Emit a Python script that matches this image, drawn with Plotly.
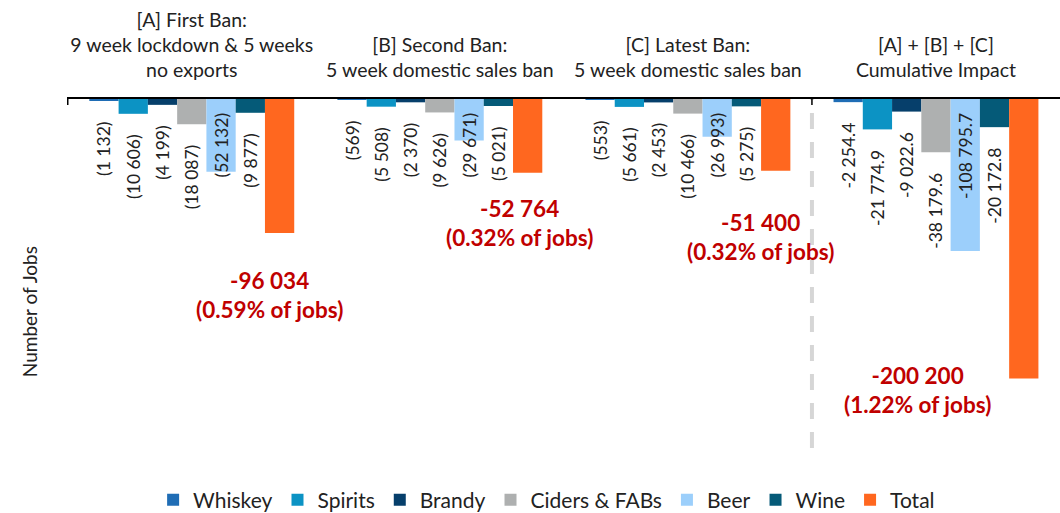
import plotly.graph_objects as go

categories = [
    "[A] First Ban:<br>9 week lockdown & 5 weeks<br>no exports",
    "[B] Second Ban:<br>5 week domestic sales ban",
    "[C] Latest Ban:<br>5 week domestic sales ban",
    "[A] + [B] + [C]<br>Cumulative Impact",
]
series_names = ["Whiskey", "Spirits", "Brandy", "Ciders & FABs", "Beer", "Wine", "Total"]
series_colors = ["#1F6DB5", "#0C93C4", "#063F6B", "#AEB0B0", "#9CCFFB", "#055A78", "#FF671F"]

whiskey = [-1132, -569, -553, -2254.4]
spirits = [-10606, -5508, -5661, -21774.9]
brandy = [-4199, -2370, -2453, -9022.6]
ciders = [-18087, -9626, -10466, -38179.6]
beer = [-52132, -29671, -26993, -108795.7]
wine = [-9877, -5021, -5275, -20172.8]
total = [-96034, -52764, -51400, -200200]
pct_of_jobs = ["0.59%", "0.32%", "0.32%", "1.22%"]

series_values = [whiskey, spirits, brandy, ciders, beer, wine, total]

EN = "\u2002"
THIN = "\u2009"


def fmt(v, j):
    if j < 3:
        return "(" + f"{abs(v):,.0f}".replace(",", " ") + ")"
    return f"{v:,.1f}".replace(",", " ")


FONT = "Lato"
TXT = "#222222"
LBL = 17.5
fig = go.Figure()
for i, (name, vals, col) in enumerate(zip(series_names, series_values, series_colors)):
    if name == "Total":
        fig.add_trace(go.Bar(x=categories, y=vals, name=name, marker_color=col,
                             marker_line_width=0, hoverinfo="skip"))
        continue
    if name == "Beer":
        labels = [fmt(v, j) + EN + THIN for j, v in enumerate(vals)]
        fig.add_trace(go.Bar(
            x=categories, y=vals, name=name, marker_color=col, marker_line_width=0,
            text=labels, textposition="inside", insidetextanchor="start",
            textangle=-90, constraintext="none",
            insidetextfont=dict(family=FONT, size=LBL, color=TXT),
            cliponaxis=False))
    else:
        labels = [fmt(v, j) + EN * 2 for j, v in enumerate(vals)]
        fig.add_trace(go.Bar(
            x=categories, y=vals, name=name, marker_color=col, marker_line_width=0,
            text=labels, textposition="outside", textangle=-90, constraintext="none",
            outsidetextfont=dict(family=FONT, size=LBL, color=TXT),
            cliponaxis=False))

# red total annotations
xshifts = [78, 80, 73, -18]
yshifts = [-62, -50, -66, -12]
for j, cat in enumerate(categories):
    txt = "<b>" + f"{total[j]:,}".replace(",", " ") + "<br>(" + pct_of_jobs[j] + " of jobs)</b>"
    fig.add_annotation(x=cat, y=total[j], xref="x", yref="y", text=txt, showarrow=False,
                       xshift=xshifts[j], yshift=yshifts[j],
                       font=dict(family=FONT, size=22.5, color="#C00000"),
                       align="center", xanchor="center", yanchor="middle")

# dashed separator before cumulative group
fig.add_shape(type="line", xref="x", yref="paper", x0=2.5, x1=2.5, y0=0, y1=1,
              line=dict(color="#D6D6D6", width=4, dash="16px,13px"), layer="below")
# small boundary ticks on the category axis
for bx in (-0.5, 2.5):
    fig.add_shape(type="line", xref="x", yref="paper", x0=bx, x1=bx, y0=1, y1=1 - 6 / 349,
                  line=dict(color="black", width=1.5))

fig.add_annotation(text="Number of Jobs", xref="paper", yref="paper", x=-0.037, y=0.39,
                   textangle=-90, showarrow=False, xanchor="center", yanchor="middle",
                   font=dict(family=FONT, size=19, color=TXT))

fig.update_layout(
    width=1060, height=513,
    margin=dict(l=67, r=0, t=99, b=65, autoexpand=False),
    barmode="group", bargap=0.174, bargroupgap=0,
    plot_bgcolor="white", paper_bgcolor="white",
    font=dict(family=FONT, size=18, color=TXT),
    showlegend=True,
    legend=dict(orientation="h", x=0.483, xanchor="center", y=-0.149, yanchor="middle",
                font=dict(family=FONT, size=21, color=TXT), traceorder="normal",
                itemwidth=30),
    xaxis=dict(side="top", showline=True, linecolor="black", linewidth=1.5,
               showgrid=False, ticks="", tickfont=dict(family=FONT, size=19.5, color=TXT),
               ticklabelstandoff=12, fixedrange=True, automargin=False),
    yaxis=dict(range=[-250000, 0], showticklabels=False, showgrid=False, zeroline=False,
               showline=False, ticks="", fixedrange=True, automargin=False),
)

fig.write_html("out.html", config={"displayModeBar": False},
               post_script="document.body.style.margin='0';document.body.style.overflow='hidden';")
